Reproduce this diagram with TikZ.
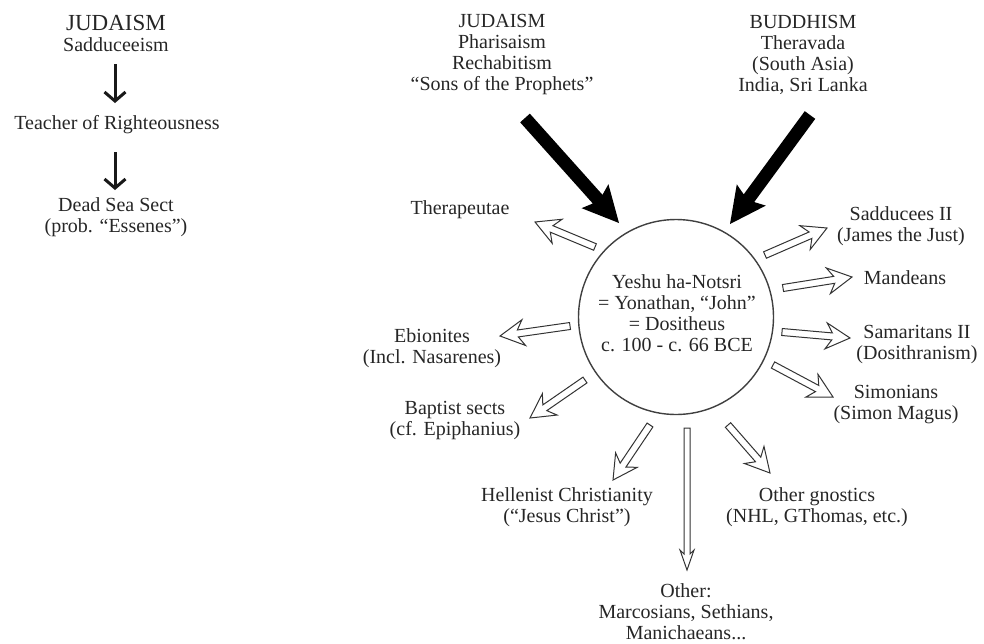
\documentclass[tikz,border=0pt]{standalone}
\usepackage{fontspec}
\setmainfont{Liberation Serif}
\usetikzlibrary{arrows.meta,calc}
% hollow/solid broad arrow: from, to, half shaft, half head, head length, barb length, style
\newcommand{\harrow}[7]{%
  \coordinate (hA) at ($(#2)!#5!(#1)$);
  \coordinate (hB) at ($(#2)!#6!(#1)$);
  \path[#7] ($(#1)!#3!90:(#2)$) -- ($(hA)!#3!90:(#2)$) -- ($(hB)!#4!90:(#2)$) -- (#2)
     -- ($(hB)!#4!-90:(#2)$) -- ($(hA)!#3!-90:(#2)$) -- ($(#1)!#3!-90:(#2)$) -- cycle;}
\tikzset{
  lbl/.style={align=center, inner sep=0pt, text=black!85, font=\fontsize{20}{21}\selectfont},
  hollow/.style={draw=black!80, fill=white, line width=1pt, line join=miter},
  solid/.style={fill=black},
  smallarr/.style={draw=black!90, line width=3pt, -{Straight Barb[length=9pt,width=21pt]}}
}
\begin{document}
\begin{tikzpicture}[x=1pt,y=-1pt]
\useasboundingbox (0,0) rectangle (984,643);
% left column
\node[lbl] (ljud) at (116,33) {{\fontsize{23}{21}\selectfont JUDAISM}\\Sadduceeism};
\node[lbl] (teach) at (117,125) {Teacher of Righteousness};
\node[lbl] (dss) at (116,217) {Dead Sea Sect\\(prob. “Essenes”)};
\coordinate (la1) at (115,64); \coordinate (la2) at (115,103);
\coordinate (lb1) at (115,152); \coordinate (lb2) at (115,190);
\draw[smallarr] (la1) -- (la2);
\draw[smallarr] (lb1) -- (lb2);
% sources
\node[lbl] (mjud) at (502,55) {JUDAISM\\Pharisaism\\Rechabitism\\“Sons of the Prophets”};
\node[lbl] (budd) at (803,55) {BUDDHISM\\Theravada\\(South Asia)\\India, Sri Lanka};
% centre
\node[circle, draw=black!75, line width=1.4pt, minimum size=195pt, inner sep=0pt] (c) at (676,317) {};
\node[lbl] (ct) at (677,313) {Yeshu ha-Notsri\\= Yonathan, “John”\\= Dositheus\\c. 100 - c. 66 BCE};
\coordinate (bj1) at (525,118); \coordinate (bj2) at (619,223);
\coordinate (bb1) at (810,115); \coordinate (bb2) at (730,224);
\harrow{bj1}{bj2}{6.5pt}{18pt}{32pt}{36pt}{solid}
\harrow{bb1}{bb2}{6.5pt}{18pt}{32pt}{36pt}{solid}
% outgoing labels
\node[lbl] (ther) at (460,210) {Therapeutae};
\node[lbl] (ebi) at (432,348) {Ebionites\\(Incl. Nasarenes)};
\node[lbl] (bap) at (455,420) {Baptist sects\\(cf. Epiphanius)};
\node[lbl] (hel) at (567,507) {Hellenist Christianity\\(“Jesus Christ”)};
\node[lbl] (oth) at (686,612) {Other:\\Marcosians, Sethians,\\Manichaeans...};
\node[lbl] (gno) at (817,507) {Other gnostics\\(NHL, GThomas, etc.)};
\node[lbl] (sim) at (896,405) {Simonians\\(Simon Magus)};
\node[lbl] (sam) at (917,344) {Samaritans II\\(Dosithranism)};
\node[lbl] (man) at (905,278) {Mandeans};
\node[lbl] (sadd) at (901,226) {Sadducees II\\(James the Just)};
% outgoing arrows
\coordinate (t1) at (595,247); \coordinate (e1) at (535,222);
\coordinate (t2) at (570,326); \coordinate (e2) at (500,336);
\coordinate (t3) at (585,380); \coordinate (e3) at (530,418);
\coordinate (t4) at (650,425); \coordinate (e4) at (613,480);
\coordinate (t5) at (687,428); \coordinate (e5) at (687,570);
\coordinate (t6) at (728,425); \coordinate (e6) at (770,473);
\coordinate (t7) at (773,365); \coordinate (e7) at (833,397);
\coordinate (t8) at (782,332); \coordinate (e8) at (850,338);
\coordinate (t9) at (783,288); \coordinate (e9) at (852,277);
\coordinate (t10) at (765,255); \coordinate (e10) at (827,228);
\harrow{t1}{e1}{3.5pt}{13pt}{18pt}{24pt}{hollow}
\harrow{t2}{e2}{3.5pt}{13pt}{18pt}{24pt}{hollow}
\harrow{t3}{e3}{3.5pt}{13pt}{18pt}{24pt}{hollow}
\harrow{t4}{e4}{3.5pt}{13pt}{18pt}{24pt}{hollow}
\harrow{t5}{e5}{3pt}{7pt}{16pt}{20pt}{hollow}
\harrow{t6}{e6}{3.5pt}{13pt}{18pt}{24pt}{hollow}
\harrow{t7}{e7}{3.5pt}{13pt}{18pt}{24pt}{hollow}
\harrow{t8}{e8}{3.5pt}{13pt}{18pt}{24pt}{hollow}
\harrow{t9}{e9}{3.5pt}{13pt}{18pt}{24pt}{hollow}
\harrow{t10}{e10}{3.5pt}{13pt}{18pt}{24pt}{hollow}
\end{tikzpicture}
\end{document}
